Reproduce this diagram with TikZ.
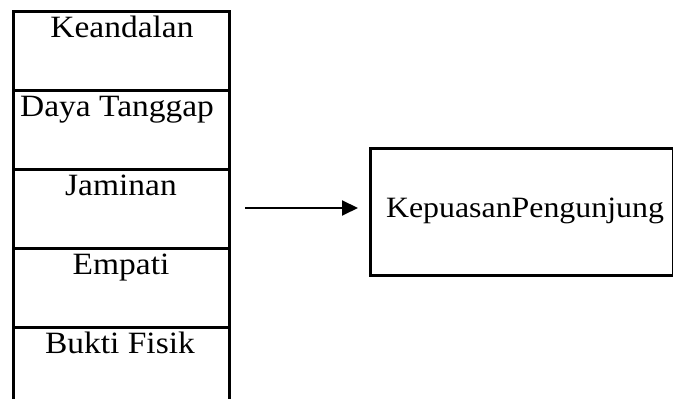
\documentclass[tikz,border=0pt]{standalone}
\usepackage{fontspec}
\setmainfont{Liberation Serif}[FakeStretch=1.08]
\usetikzlibrary{arrows.meta}
\begin{document}
\begin{tikzpicture}[x=1pt,y=1pt,
  cell/.style={draw=black,line width=2.6pt,rectangle,minimum width=216pt,minimum height=79pt,inner sep=0pt,anchor=north west},
  lbl/.style={font=\fontsize{31}{36}\selectfont,anchor=base,inner sep=0pt},
  kbox/.style={draw=black,line width=2.6pt,rectangle,minimum width=303pt,minimum height=127pt,inner sep=0pt,anchor=north west},
  conn/.style={line width=2pt,-{Triangle[length=16pt,width=15pt]}}]
\useasboundingbox (0,0) rectangle (673,399);
\node[cell] (c1) at (12,389) {};
\node[cell] (c2) at (12,310) {};
\node[cell] (c3) at (12,231) {};
\node[cell] (c4) at (12,152) {};
\node[cell] (c5) at (12,73) {};
\node[lbl] (t1) at (122,361) {Keandalan};
\node[lbl] (t2) at (117,282) {Daya Tanggap};
\node[lbl] (t3) at (121,203) {Jaminan};
\node[lbl] (t4) at (121,124) {Empati};
\node[lbl] (t5) at (120,45) {Bukti Fisik};
\node[kbox] (kp) at (369,252) {};
\node[lbl,font=\fontsize{29.5}{35}\selectfont] (kt) at (525,181) {KepuasanPengunjung};
\coordinate (as) at (245,191);
\draw[conn] (as) -- ([xshift=-11pt]as -| kp.west);
\end{tikzpicture}
\end{document}
